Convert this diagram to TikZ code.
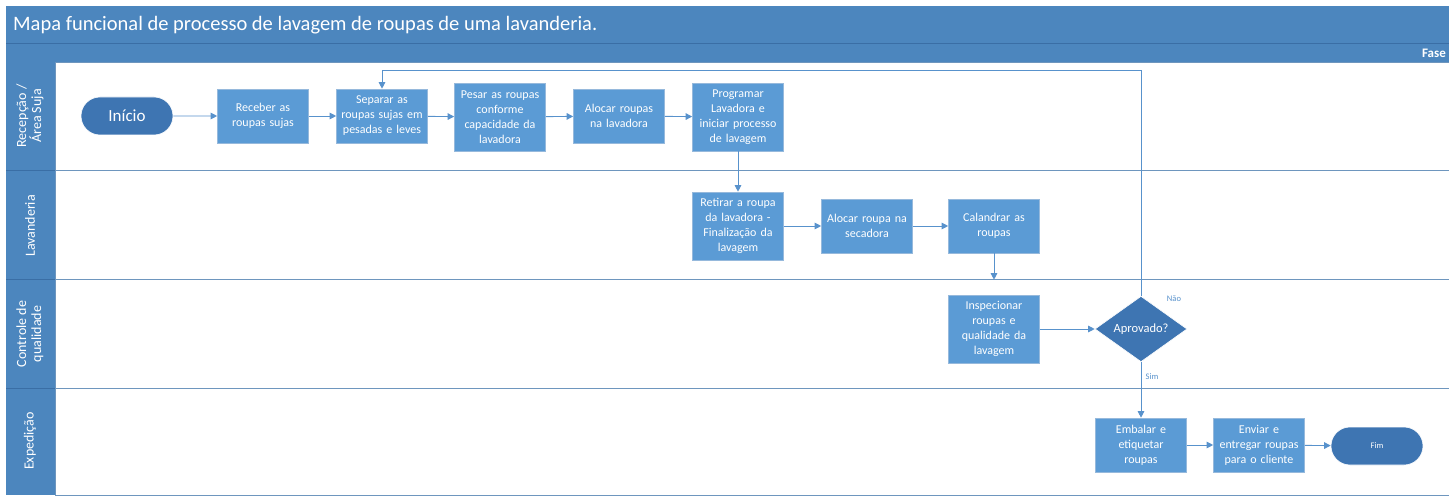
\documentclass[tikz,border=0pt]{standalone}
\usepackage{fontspec}
\setmainfont{Carlito}
\usetikzlibrary{shapes.geometric,shapes.misc,arrows.meta,calc}
\definecolor{barblue}{RGB}{76,134,190}
\definecolor{bardark}{RGB}{58,110,165}
\definecolor{boxfill}{RGB}{91,155,213}
\definecolor{boxedge}{RGB}{150,185,220}
\definecolor{termfill}{RGB}{62,117,178}
\definecolor{conn}{RGB}{88,146,204}
\definecolor{laneline}{RGB}{110,150,190}
\tikzset{
  x=1pt, y=-1pt,
  stepbox/.style={rectangle, fill=boxfill, draw=boxedge, line width=0.6pt,
    text=white, align=center, inner sep=0pt, text width=91pt,
    minimum width=91pt, minimum height=54pt,
    font=\fontsize{12}{15}\selectfont},
  tallbox/.style={stepbox, minimum height=68pt},
  terminal/.style={rounded rectangle, fill=termfill, draw=white, line width=0.6pt,
    text=white, minimum width=92pt, minimum height=38pt, inner sep=0pt},
  decision/.style={diamond, fill=termfill, draw=white, line width=0.6pt,
    text=white, minimum width=92pt, minimum height=54pt, inner sep=0pt,
    font=\fontsize{12.5}{14}\selectfont},
  flow/.style={draw=conn, line width=0.9pt,
    -{Triangle[width=6.5pt,length=6.5pt]}},
  lanelabel/.style={rotate=90, text=white, align=center,
    font=\fontsize{14}{15}\selectfont},
  branchlabel/.style={text=conn, font=\fontsize{8.5}{10}\selectfont, inner sep=1pt}
}
\begin{document}
\begin{tikzpicture}
\useasboundingbox (0,0) rectangle (1449,497);
\fill[white] (0,0) rectangle (1449,497);

% header bars
\fill[barblue] (6,6) rectangle (1449,62);
\draw[bardark, line width=1pt] (6,44) -- (1449,44);
\node[anchor=west, text=white, font=\fontsize{20.5}{23}\selectfont, inner sep=0pt]
  (title) at (13,25) {Mapa funcional de processo de lavagem de roupas de uma lavanderia.};
\node[anchor=east, text=white, font=\fontsize{13}{15}\selectfont\bfseries, inner sep=0pt]
  (fase) at (1446,53) {Fase};

% swimlanes
\fill[barblue] (6,62) rectangle (55,495);
\draw[laneline, line width=0.8pt] (55,62) rectangle (1449,495);
\foreach \yy in {171,280,388} {
  \draw[bardark, line width=1pt] (6,\yy) -- (55,\yy);
  \draw[laneline, line width=1pt] (55,\yy) -- (1449,\yy);
}
\node[lanelabel] (l1) at (30,116) {Recepção /\\Área Suja};
\node[lanelabel] (l2) at (30,226) {Lavanderia};
\node[lanelabel] (l3) at (30,334) {Controle de\\qualidade};
\node[lanelabel] (l4) at (30,441) {Expedição};

% process steps
\node[terminal, font=\fontsize{17}{19}\selectfont] (ini) at (127,116) {Início};
\node[stepbox] (rec) at (263,116) {Receber as\\roupas sujas};
\node[stepbox] (sep) at (382,116) {Separar as\\roupas sujas em\\pesadas e leves};
\node[tallbox] (pes) at (500,117) {Pesar as roupas\\conforme\\capacidade da\\lavadora};
\node[stepbox] (alo) at (619,116) {Alocar roupas\\na lavadora};
\node[tallbox] (prg) at (738,117) {Programar\\Lavadora e\\iniciar processo\\de lavagem};

\node[tallbox] (ret) at (738,226) {Retirar a roupa\\da lavadora -\\Finalização da\\lavagem};
\node[stepbox] (sec) at (867,226) {Alocar roupa na\\secadora};
\node[stepbox] (cal) at (994,226) {Calandrar as\\roupas};

\node[tallbox] (ins) at (994,329) {Inspecionar\\roupas e\\qualidade da\\lavagem};
\node[decision] (apr) at (1141,329) {Aprovado?};

\node[stepbox] (emb) at (1141,445) {Embalar e\\etiquetar\\roupas};
\node[stepbox] (env) at (1259,445) {Enviar e\\entregar roupas\\para o cliente};
\node[terminal, font=\fontsize{8.5}{10}\selectfont] (fim) at (1377,446) {Fim};

% connectors
\draw[flow] (ini) -- (rec);
\draw[flow] (rec) -- (sep);
\draw[flow] (sep) -- (pes);
\draw[flow] (pes) -- (alo);
\draw[flow] (alo) -- (prg);
\draw[flow] (prg) -- (ret);
\draw[flow] (ret) -- (sec);
\draw[flow] (sec) -- (cal);
\draw[flow, shorten >=15pt] (cal) -- (ins);
\draw[flow] (ins) -- (apr);
\coordinate (back) at (1141,70);
\draw[flow] (apr.north) -- (back) -| (sep.north);
\draw[flow] (apr) -- (emb);
\draw[flow] (emb) -- (env);
\draw[flow] (env) -- (fim);

\node[branchlabel] (nao) at (1174,299) {Não};
\node[branchlabel] (sim) at (1152,377) {Sim};
\end{tikzpicture}
\end{document}
